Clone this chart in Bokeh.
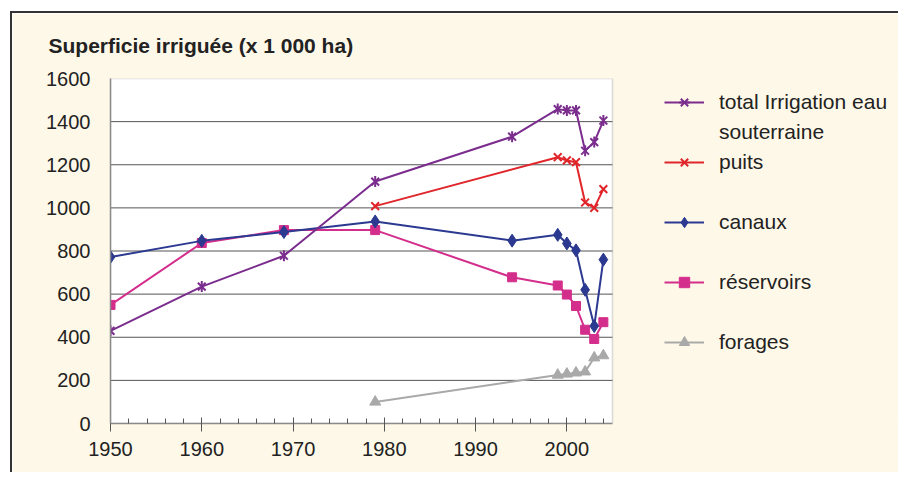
import math
from bokeh.plotting import figure
from bokeh.models import (Range1d, SingleIntervalTicker, Legend, LegendItem,
                          FixedTicker, BoxAnnotation)
from bokeh.embed import file_html
from bokeh.resources import INLINE

years = [1950, 1960, 1969, 1979, 1994, 1999, 2000, 2001, 2002, 2003, 2004]
total = [430, 635, 778, 1122, 1330, 1458, 1452, 1452, 1265, 1305, 1405]
canaux = [772, 847, 888, 937, 848, 875, 835, 803, 620, 452, 760]
reservoirs = [550, 837, 897, 897, 678, 640, 598, 545, 435, 392, 470]

years_recent = [1979, 1999, 2000, 2001, 2002, 2003, 2004]
puits = [1008, 1235, 1220, 1212, 1025, 1000, 1087]
forages = [100, 225, 230, 235, 240, 305, 315]

y_ticks = [0, 200, 400, 600, 800, 1000, 1200, 1400, 1600]

# plotting area (data units) and the wider frame that also holds the legend
X_START, X_END_PLOT = 1950, 2005
X_END_FRAME = 1950 + 55 * 790 / 502
Y_START, Y_END = 0, 1600

FONT = "Liberation Sans"
CREAM = "#FEF8E8"

p = figure(width=888, height=461, output_backend="svg", toolbar_location=None,
           x_range=Range1d(X_START, X_END_FRAME), y_range=Range1d(Y_START, Y_END),
           min_border_left=98, min_border_right=0, min_border_top=61,
           min_border_bottom=51,
           background_fill_color=CREAM, border_fill_color=CREAM,
           outline_line_color=None,
           styles={"border-top": "2px solid #333333", "border-left": "2px solid #333333",
                   "margin-left": "10px", "margin-top": "11px"})

p.title.text = "Superficie irriguée (x 1 000 ha)"
p.title.text_font = FONT
p.title.text_font_size = "21px"
p.title.text_font_style = "bold"
p.title.text_color = "#222222"
p.title.align = "left"
p.title.vertical_align = "top"
p.title.offset = -62
p.title.standoff = 40

# white plotting area with its grey border
p.add_layout(BoxAnnotation(left=X_START, right=X_END_PLOT, bottom=Y_START, top=Y_END,
                           fill_color="white", fill_alpha=1.0,
                           line_color="#8a8a8a", line_width=1.5, level="underlay"))

# axes
p.xaxis.ticker = SingleIntervalTicker(interval=10, num_minor_ticks=5)
p.xaxis.bounds = (X_START, X_END_PLOT)
p.xaxis.axis_line_color = "#8a8a8a"
p.xaxis.axis_line_width = 1.5
p.xaxis.major_tick_line_color = "#555555"
p.xaxis.minor_tick_line_color = "#555555"
p.xaxis.major_tick_in = 6
p.xaxis.major_tick_out = 8
p.xaxis.minor_tick_in = 5
p.xaxis.minor_tick_out = 0
p.xaxis.major_label_text_font = FONT
p.xaxis.major_label_text_font_size = "20px"
p.xaxis.major_label_text_color = "#222222"
p.xaxis.major_label_standoff = 10

p.yaxis.ticker = FixedTicker(ticks=y_ticks)
p.yaxis.axis_line_color = "#8a8a8a"
p.yaxis.axis_line_width = 1.5
p.yaxis.major_tick_line_color = None
p.yaxis.minor_tick_line_color = None
p.yaxis.major_label_text_font = FONT
p.yaxis.major_label_text_font_size = "20px"
p.yaxis.major_label_text_color = "#222222"
p.yaxis.major_label_standoff = 14

p.xgrid.visible = False
p.ygrid.visible = False

# horizontal grid lines limited to the plotting area
grid_y = y_ticks[1:-1]
p.segment(x0=[X_START] * len(grid_y), x1=[X_END_PLOT] * len(grid_y), y0=grid_y, y1=grid_y,
          line_color="#555555", line_width=1)

LW = 2
PURPLE = "#7B2D8E"
RED = "#E0262B"
NAVY = "#2B3990"
MAGENTA = "#D42E8C"
GRAY = "#A9A9A9"

r_forl = p.line(years_recent, forages, line_color=GRAY, line_width=LW)
r_fors = p.scatter(years_recent, forages, marker="triangle", size=11, fill_color=GRAY, line_color=GRAY)

r_resl = p.line(years, reservoirs, line_color=MAGENTA, line_width=LW)
r_ress = p.scatter(years, reservoirs, marker="square", size=9, fill_color=MAGENTA, line_color=MAGENTA)

r_canl = p.line(years, canaux, line_color=NAVY, line_width=LW)
r_cans = p.scatter(years, canaux, marker="diamond", size=13, fill_color=NAVY, line_color=NAVY)

r_puil = p.line(years_recent, puits, line_color=RED, line_width=LW)
r_puis = p.scatter(years_recent, puits, marker="x", size=11, line_color=RED, line_width=2)

r_totl = p.line(years, total, line_color=PURPLE, line_width=LW)
r_totx = p.scatter(years, total, marker="x", size=11, line_color=PURPLE, line_width=2)
r_totd = p.scatter(years, total, marker="dash", size=11, angle=math.pi / 2, line_color=PURPLE, line_width=2)

# invisible renderer used only as a spacer in the legend
r_blank = p.line([], [], line_alpha=0)

legend = Legend(items=[
    LegendItem(label="total Irrigation eau", renderers=[r_totl, r_totx, r_totd]),
    LegendItem(label="souterraine", renderers=[r_blank]),
    LegendItem(label="puits", renderers=[r_puil, r_puis]),
    LegendItem(label=" ", renderers=[r_blank]),
    LegendItem(label="canaux", renderers=[r_canl, r_cans]),
    LegendItem(label=" ", renderers=[r_blank]),
    LegendItem(label="réservoirs", renderers=[r_resl, r_ress]),
    LegendItem(label=" ", renderers=[r_blank]),
    LegendItem(label="forages", renderers=[r_forl, r_fors]),
], location=(554, 68))
legend.label_text_font = FONT
legend.label_text_font_size = "21px"
legend.label_text_color = "#222222"
legend.glyph_width = 40
legend.glyph_height = 26
legend.label_height = 26
legend.label_standoff = 15
legend.spacing = 4
legend.padding = 0
legend.margin = 0
legend.border_line_color = None
legend.background_fill_alpha = 0
legend.inactive_fill_alpha = 0
p.add_layout(legend, "center")

open("out.html", "w").write(file_html(p, INLINE))
